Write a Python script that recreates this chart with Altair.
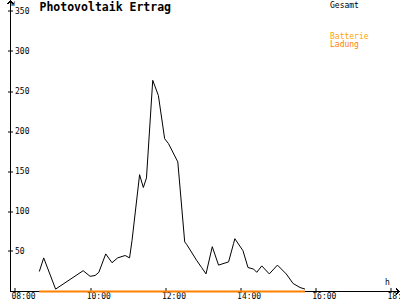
import altair as alt
import pandas as pd

# ---- data ----
times = ["08:38", "08:45", "09:04", "09:48", "09:59", "10:07", "10:13", "10:24", "10:34", "10:43",
         "10:55", "11:02", "11:06", "11:18", "11:24", "11:29", "11:39", "11:48", "11:58", "12:04",
         "12:19", "12:30", "12:33", "12:49", "12:57", "13:04", "13:14", "13:24", "13:40", "13:48",
         "13:50", "14:03", "14:11", "14:20", "14:25", "14:33", "14:45", "14:58", "15:12", "15:23",
         "15:34", "15:42"]
gesamt = [25, 42, 3, 26, 19, 20, 24, 47, 36, 42,
          45, 42, 64, 146, 130, 142, 264, 245, 191, 185,
          162, 62, 59, 39, 30, 22, 56, 33, 37, 60,
          66, 51, 30, 28, 24, 32, 22, 33, 22, 10,
          5, 3]
batterie_ladung = [0, 0, 0, 0, 0, 0, 0, 0, 0, 0,
                   0, 0, 0, 0, 0, 0, 0, 0, 0, 0,
                   0, 0, 0, 0, 0, 0, 0, 0, 0, 0,
                   0, 0, 0, 0, 0, 0, 0, 0, 0, 0,
                   0, 0]
x_ticks = [8, 10, 12, 14, 16, 18]
y_ticks = [50, 100, 150, 200, 250, 300, 350]

FONT = "DejaVu Sans Mono"
ORANGE = "#ff8000"

# scale geometry (hours on x, watts on y)
PX_PER_H = 37.6
X_MIN = 8 - 5.5 / PX_PER_H
X_MAX = X_MIN + 390 / PX_PER_H
X_AXIS = 8 - 5 / PX_PER_H
X_END = X_MIN + 389.5 / PX_PER_H
Y_MIN = -0.625
Y_MAX = 364.375
Y_TOP = 363.75


def to_hours(s):
    h, m = s.split(":")
    return int(h) + int(m) / 60.0


hours = [to_hours(t) for t in times]
df_g = pd.DataFrame({"t": hours, "v": gesamt})
df_b = pd.DataFrame({"t": hours, "v": batterie_ladung})

xscale = alt.Scale(domain=[X_MIN, X_MAX], nice=False, zero=False)
yscale = alt.Scale(domain=[Y_MIN, Y_MAX], nice=False, zero=False)

xaxis = alt.Axis(values=x_ticks, labelExpr="(datum.value < 10 ? '0' : '') + datum.value + ':00'",
                 domain=False, grid=False, tickSize=5, offset=-4, translate=0,
                 labelAlign="left", labelOffset=-4, labelBaseline="top", labelPadding=0,
                 labelFont=FONT, labelFontSize=8, labelColor="black", tickColor="black",
                 title=None, labelFlush=False, labelOverlap=False, labelBound=False)
yaxis = alt.Axis(values=y_ticks, domain=False, grid=False, tickSize=5, offset=-3, translate=0,
                 labelAlign="left", labelPadding=-7, labelBaseline="middle",
                 labelFont=FONT, labelFontSize=8, labelColor="black", tickColor="black",
                 title=None, labelFlush=False, labelOverlap=False, labelBound=False)

yrule = alt.Chart(df_g).mark_rule(color="black", strokeWidth=1).encode(
    x=alt.datum(X_AXIS, scale=xscale), y=alt.datum(0), y2=alt.datum(Y_TOP))
xrule = alt.Chart(df_g).mark_rule(color="black", strokeWidth=1).encode(
    y=alt.datum(0, scale=yscale), x=alt.datum(X_AXIS), x2=alt.datum(X_END))

line_g = alt.Chart(df_g).mark_line(strokeWidth=1, color="black").encode(
    x=alt.X("t:Q", scale=xscale, axis=xaxis),
    y=alt.Y("v:Q", scale=yscale, axis=yaxis),
    order=alt.Order("t:Q"),
)
line_b = alt.Chart(df_b).mark_line(strokeWidth=2, color=ORANGE).encode(
    x=alt.X("t:Q"),
    y=alt.Y("v:Q"),
    order=alt.Order("t:Q"),
)

up_arrow = alt.Chart(df_g).mark_point(shape="M-1,1.2L0,0L1,1.2", size=25, filled=False,
                                      color="black", strokeWidth=1, opacity=1).encode(
    x=alt.datum(X_AXIS), y=alt.datum(Y_TOP))
right_arrow = alt.Chart(df_g).mark_point(shape="M-1.2,-1L0,0L-1.2,1", size=25, filled=False,
                                         color="black", strokeWidth=1, opacity=1).encode(
    x=alt.datum(X_END), y=alt.datum(0))


def label(txt, x, y, size=8, color="black", weight="normal"):
    return alt.Chart(pd.DataFrame({"s": [txt]})).mark_text(
        font=FONT, fontSize=size, color=color, fontWeight=weight, align="left",
        baseline="alphabetic").encode(text="s:N", x=alt.value(x), y=alt.value(y))


title = label("Photovoltaik Ertrag", 29.5, 11, size=11.5, weight="bold")
unit_w = label("W", 1, 5.5, size=6.5)
unit_h = label("h", 375, 284.5, size=8)
leg1 = label("Gesamt", 320, 7.5)
leg2 = label("Batterie", 320, 38.5, color="#ffa500")
leg3 = label("Ladung", 320, 46.5, color=ORANGE)

chart = alt.layer(yrule, xrule, line_g, line_b, up_arrow, right_arrow, title, unit_w, unit_h,
                  leg1, leg2, leg3).properties(
    width=390, height=292,
    padding={"left": 10, "top": 0, "right": 0, "bottom": 8},
    autosize=alt.AutoSizeParams(type="none"),
    background="white",
).configure_view(stroke=None)

chart.save("out.html", embed_options={"renderer": "svg", "actions": False})
